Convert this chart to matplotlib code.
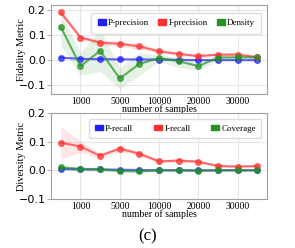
import matplotlib
matplotlib.use('Agg')
import matplotlib.pyplot as plt
from matplotlib.patches import Patch
import numpy as np

samples = [500, 1000, 2500, 5000, 7500, 10000, 15000, 20000, 25000, 30000, 35000]
tick_labels = ['1000', '5000', '10000', '20000', '30000']

p_precision = [0.010, 0.005, 0.004, 0.003, 0.003, 0.002, 0.001, 0.0, 0.0, 0.0, 0.0]
i_precision = [0.190, 0.090, 0.070, 0.065, 0.055, 0.035, 0.025, 0.016, 0.022, 0.022, 0.012]
i_precision_lo = [0.180, 0.082, 0.060, 0.055, 0.043, 0.028, 0.018, 0.010, 0.014, 0.014, 0.006]
i_precision_hi = [0.200, 0.098, 0.080, 0.075, 0.067, 0.042, 0.032, 0.022, 0.030, 0.030, 0.018]
density = [0.132, -0.024, 0.037, -0.073, -0.015, 0.008, -0.004, -0.024, 0.010, 0.011, 0.011]
density_lo = [0.060, -0.060, -0.045, -0.115, -0.060, -0.005, -0.030, -0.040, 0.000, 0.002, 0.004]
density_hi = [0.190, 0.030, 0.120, -0.030, 0.030, 0.020, 0.012, -0.008, 0.020, 0.020, 0.018]

p_recall = [0.005, 0.003, 0.003, 0.002, 0.001, 0.0, 0.0, 0.0, 0.0, 0.0, 0.0]
i_recall = [0.097, 0.083, 0.051, 0.076, 0.058, 0.031, 0.034, 0.030, 0.015, 0.013, 0.015]
i_recall_lo = [0.040, 0.062, 0.042, 0.068, 0.050, 0.025, 0.028, 0.024, 0.010, 0.008, 0.010]
i_recall_hi = [0.152, 0.102, 0.060, 0.084, 0.066, 0.037, 0.040, 0.036, 0.020, 0.018, 0.020]
coverage = [0.010, 0.005, 0.003, -0.002, -0.004, 0.0, 0.0, -0.002, 0.0, 0.0, 0.0]
coverage_lo = [0.000, -0.003, -0.004, -0.008, -0.010, -0.004, -0.004, -0.006, -0.003, -0.003, -0.003]
coverage_hi = [0.018, 0.012, 0.010, 0.004, 0.002, 0.004, 0.004, 0.002, 0.003, 0.003, 0.003]

blue = '#1f1fff'
red = '#ff3030'
green = '#259225'
serif = 'Liberation Serif'

fig = plt.figure(figsize=(2.95, 2.48), dpi=100)
ax1 = fig.add_axes([0.173, 0.621, 0.732, 0.359])
ax2 = fig.add_axes([0.173, 0.198, 0.732, 0.346])
x = np.arange(len(samples))

def style(ax, ylim, ylabel):
    ax.set_facecolor('white')
    for s in ax.spines.values():
        s.set_color('#a0a0a0')
        s.set_linewidth(0.8)
    ax.grid(True, color='#e6e6e6', linewidth=0.8)
    ax.set_axisbelow(True)
    ax.set_xlim(-0.5, len(samples) - 0.5)
    ax.set_ylim(*ylim)
    ax.set_yticks([-0.1, 0.0, 0.1, 0.2])
    ax.set_xticks(x[1::2])
    ax.set_xticklabels(tick_labels, fontfamily=serif, fontsize=7)
    ax.tick_params(axis='x', length=0, pad=2)
    ax.tick_params(axis='y', labelsize=8, length=3, width=0.6, color='#a0a0a0', pad=1)
    ax.set_xlabel('number of samples', fontfamily=serif, fontsize=7, labelpad=-1)
    ax.set_ylabel(ylabel, fontfamily=serif, fontsize=7.5)
    ax.yaxis.set_label_coords(-0.115, 0.5)

def series(ax, y, lo, hi, color):
    if lo is not None:
        ax.fill_between(x, lo, hi, color=color, alpha=0.12, linewidth=0)
    ax.plot(x, y, color=color, alpha=0.7, linewidth=1.5, marker='o', markersize=4)

series(ax1, p_precision, None, None, blue)
series(ax1, i_precision, i_precision_lo, i_precision_hi, red)
series(ax1, density, density_lo, density_hi, green)
style(ax1, (-0.135, 0.22), 'Fidelity Metric')
ax1.legend(handles=[Patch(color=blue, label='P-precision'), Patch(color=red, label='I-precision'),
                    Patch(color=green, label='Density')],
           loc='upper right', ncol=3, prop={'family': serif, 'size': 6.5}, handlelength=0.9,
           handleheight=0.6, handletextpad=0.25, columnspacing=1.0, borderpad=0.7, framealpha=1,
           edgecolor='#dddddd', bbox_to_anchor=(0.995, 0.96))

series(ax2, p_recall, None, None, blue)
series(ax2, i_recall, i_recall_lo, i_recall_hi, red)
series(ax2, coverage, coverage_lo, coverage_hi, green)
style(ax2, (-0.1, 0.2), 'Diversity Metric')
ax2.legend(handles=[Patch(color=blue, label='P-recall'), Patch(color=red, label='I-recall'),
                    Patch(color=green, label='Coverage')],
           loc='upper right', ncol=3, prop={'family': serif, 'size': 6.5}, handlelength=0.9,
           handleheight=0.6, handletextpad=0.25, columnspacing=2.3, borderpad=0.6, framealpha=1,
           edgecolor='#dddddd', bbox_to_anchor=(0.995, 0.98))

fig.text(0.5, 0.045, '(c)', ha='center', va='center', fontfamily=serif, fontsize=12)
fig.savefig('out.png', dpi=100)
